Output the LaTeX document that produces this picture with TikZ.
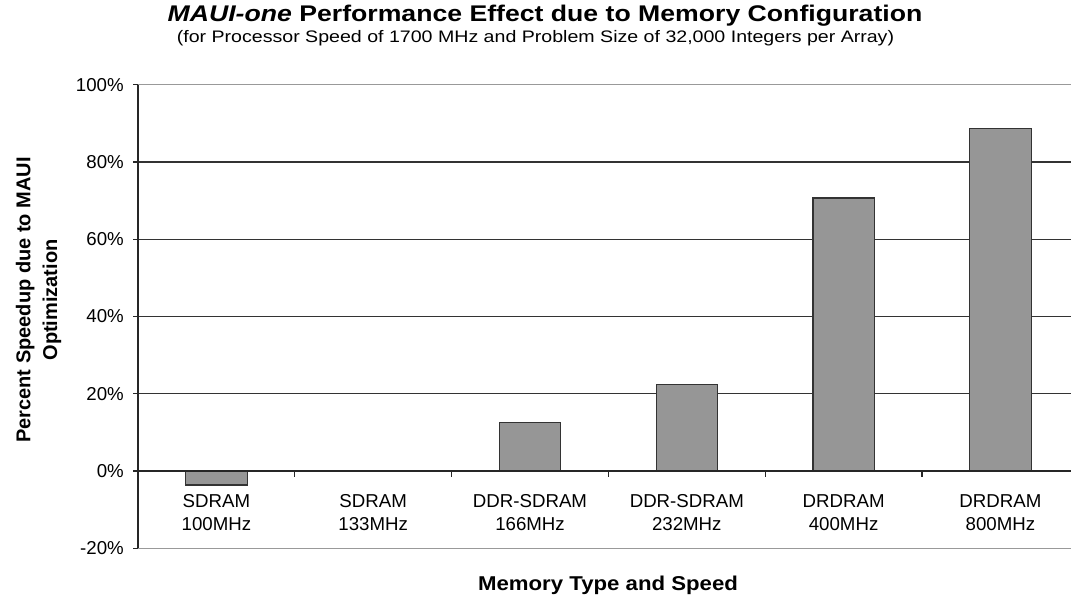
\documentclass[tikz,border=0pt]{standalone}
\usepackage{fontspec}
\setmainfont{Liberation Sans}
\newfontfamily\widefont[FakeStretch=1.175]{Liberation Sans}
\newfontfamily\semiwidefont[FakeStretch=1.11]{Liberation Sans}
\begin{document}
\begin{tikzpicture}[x=0.75pt,y=-0.75pt,
  gridline/.style={draw=black!80,line width=0.9pt},
  frameline/.style={draw=black!40,line width=0.9pt},
  axisline/.style={draw=black!85,line width=0.9pt},
  bar/.style={draw=black!80,fill=black!41,line width=0.9pt},
  ticklbl/.style={anchor=east,font=\fontsize{14}{16}\selectfont,inner sep=0pt},
  catlbl/.style={anchor=base,font=\fontsize{14}{16}\selectfont,inner sep=0pt}]
\useasboundingbox (0,0) rectangle (1071,598);
\fill[white] (0,0) rectangle (1071,598);
% plot geometry: axis at x=138, category width 156.8, 0% at y=471, 3.862 px per percent
\def\xo{138}
\def\cw{156.8}
\def\yz{471}
\def\sc{3.862}
% frame lines at 100% and -20%
\draw[frameline] (\xo,{\yz-100*\sc}) -- (1071,{\yz-100*\sc});
\draw[frameline] (\xo,{\yz+20*\sc}) -- (1071,{\yz+20*\sc});
% gridlines
\foreach \v in {20,40,60,80}
  \draw[gridline] (\xo,{\yz-\v*\sc}) -- (1071,{\yz-\v*\sc});
% bars
\foreach \i/\v in {1/-3.6,3/12.5,4/22.5,5/70.7,6/88.6}
  \draw[bar] ({\xo+(\i-0.5)*\cw-30.7},\yz) rectangle ({\xo+(\i-0.5)*\cw+30.7},{\yz-\v*\sc});
% zero axis with category ticks
\draw[axisline] (\xo,\yz) -- (1071,\yz);
\foreach \i in {1,...,6}
  \draw[axisline] ({\xo+\i*\cw},\yz) -- ({\xo+\i*\cw},{\yz+6});
% value axis with ticks and labels
\draw[axisline] (\xo,{\yz-100*\sc}) -- (\xo,{\yz+20*\sc});
\foreach \v/\n in {100/a,80/b,60/c,40/d,20/e,0/f,-20/g} {
  \draw[axisline] ({\xo-5},{\yz-\v*\sc}) -- (\xo,{\yz-\v*\sc});
  \node[ticklbl] (tl\n) at ({\xo-14},{\yz-\v*\sc}) {\v\%};
}
% category labels, two lines each
\foreach \i/\t/\s in {1/SDRAM/100MHz,2/SDRAM/133MHz,3/DDR-SDRAM/166MHz,4/DDR-SDRAM/232MHz,5/DRDRAM/400MHz,6/DRDRAM/800MHz} {
  \node[catlbl] (cl\i a) at ({\xo+(\i-0.5)*\cw},507) {\t};
  \node[catlbl] (cl\i b) at ({\xo+(\i-0.5)*\cw},530) {\s};
}
% titles
\node[anchor=base,font=\widefont\bfseries\fontsize{17}{19}\selectfont,inner sep=0pt] (title) at (545,22) {\textit{MAUI-one} Performance Effect due to Memory Configuration};
\node[anchor=base,font=\widefont\fontsize{12.5}{14}\selectfont,inner sep=0pt] (subtitle) at (535.5,43) {(for Processor Speed of 1700 MHz and Problem Size of 32,000 Integers per Array)};
\node[anchor=base,font=\semiwidefont\bfseries\fontsize{15}{17}\selectfont,inner sep=0pt] (xtitle) at (608,590.5) {Memory Type and Speed};
\node[rotate=90,align=center,font=\bfseries\fontsize{15}{20}\selectfont,inner sep=0pt] (ytitle) at (38.5,300) {Percent Speedup due to MAUI\\Optimization};
\end{tikzpicture}
\end{document}
